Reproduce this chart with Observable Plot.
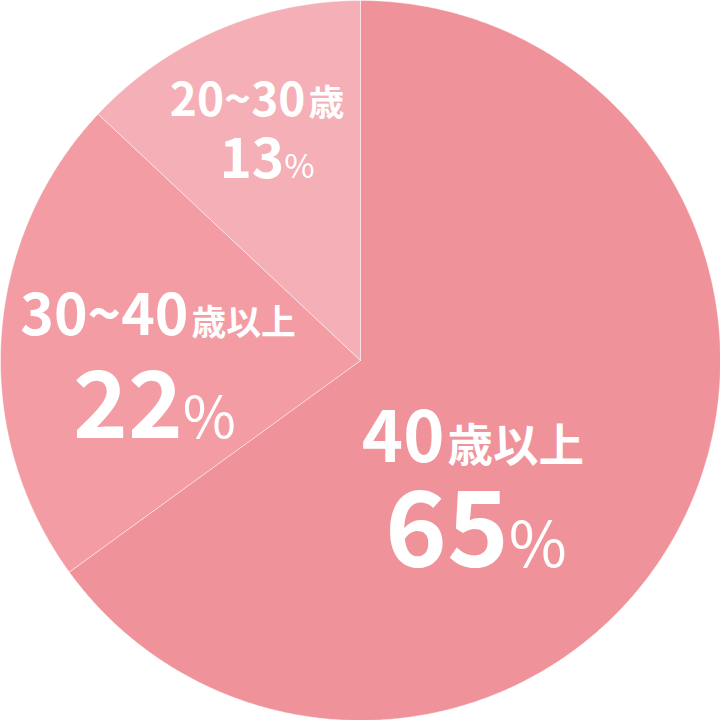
<!DOCTYPE html>
<html><head><meta charset="utf-8">
<script src="https://cdn.jsdelivr.net/npm/d3@7"></script>
<script src="https://cdn.jsdelivr.net/npm/@observablehq/plot@0.6"></script>
<style>html,body{margin:0;padding:0;background:#fff;} svg{display:block;}</style>
</head><body><div id="chart"></div>
<script>
const categories = ["40歳以上", "30~40歳以上", "20~30歳"];
const shares = [65, 22, 13];
const percentLabels = ["65%", "22%", "13%"];
const sliceColors = ["#f0929a", "#f39ca3", "#f5b0b7"];

const SIZE = 720, R = SIZE / 2;
const rows = categories.map((c, i) => ({category: c, share: shares[i], pct: percentLabels[i]}));
const arcs = d3.pie().sort(null).value(d => d.share)(rows);

// slice outlines derived from the pie angles
const outline = arcs.flatMap(a => {
  const c = a.data.category;
  const pts = [{category: c, x: 0, y: 0}];
  const n = Math.max(2, Math.ceil((a.endAngle - a.startAngle) / (Math.PI / 720)));
  for (let k = 0; k <= n; k++) {
    const t = a.startAngle + (a.endAngle - a.startAngle) * k / n;
    pts.push({category: c, x: Math.sin(t), y: Math.cos(t)});
  }
  pts.push({category: c, x: 0, y: 0});
  return pts;
});

// label layout (nudges from slice mid-angle), in degrees / radius fraction / pixels
const turn = [26.58, -10.99, -1.32], reach = [0.533, 0.572, 0.654];
const halfGap = [52.5, 51.5, 31], skew = [1.5, -1.75, 5];
const topSize = [70, 57, 46], kanjiRatio = [0.65, 0.61, 0.78];
const bottomSize = [105, 93, 55], pctRatio = [0.6, 0.62, 0.6];
const labels = arcs.map((a, i) => {
  const t = (a.startAngle + a.endAngle) / 2 + turn[i] * Math.PI / 180;
  const x = reach[i] * Math.sin(t), y = reach[i] * Math.cos(t);
  return {category: a.data.category, pct: a.data.pct,
          xTop: x - skew[i] / R, xBottom: x + skew[i] / R,
          yTop: y + halfGap[i] / R, yBottom: y - halfGap[i] / R,
          topSize: topSize[i], bottomSize: bottomSize[i],
          kanjiRatio: kanjiRatio[i], pctRatio: pctRatio[i]};
});

const font = "'Noto Sans CJK JP', 'Noto Sans', sans-serif";
const chart = Plot.plot({
  width: SIZE, height: SIZE, margin: 0,
  x: {domain: [-1, 1], axis: null},
  y: {domain: [-1, 1], axis: null},
  color: {domain: categories, range: sliceColors},
  style: {background: "transparent", fontFamily: font},
  marks: [
    Plot.line(outline, {x: "x", y: "y", z: "category", fill: "category",
      stroke: "white", strokeOpacity: 0.45, strokeWidth: 1, curve: "linear"}),
    Plot.text(labels, {x: "xTop", y: "yTop", text: "category", fontSize: d => d.topSize,
      fill: "white", fontWeight: 700, textAnchor: "middle", lineAnchor: "bottom",
      fontFamily: font}),
    Plot.text(labels, {x: "xBottom", y: "yBottom", text: "pct", fontSize: d => d.bottomSize,
      fill: "white", fontWeight: 700, textAnchor: "middle", lineAnchor: "bottom",
      fontFamily: font})
  ]
});

// mixed-size runs: digits large & bold, kanji smaller, % smaller & lighter
chart.querySelectorAll("text").forEach(t => {
  const s = t.textContent;
  if (!s) return;
  const row = labels.find(d => d.category === s || d.pct === s);
  if (!row) return;
  const isPct = row.pct === s;
  const size = isPct ? row.bottomSize : row.topSize;
  const ratio = isPct ? row.pctRatio : row.kanjiRatio;
  const weight = isPct ? 400 : 700;
  while (t.firstChild) t.removeChild(t.firstChild);
  for (const m of s.matchAll(/[0-9~]+|[^0-9~]+/g)) {
    const ts = document.createElementNS("http://www.w3.org/2000/svg", "tspan");
    const digits = /^[0-9~]+$/.test(m[0]);
    ts.setAttribute("font-size", (digits ? size : size * ratio) + "px");
    ts.setAttribute("font-weight", digits ? 700 : weight);
    if (!digits && !isPct) ts.setAttribute("dx", "3");
    ts.textContent = m[0];
    t.appendChild(ts);
  }
});

document.getElementById("chart").appendChild(chart);
</script>
</body></html>
